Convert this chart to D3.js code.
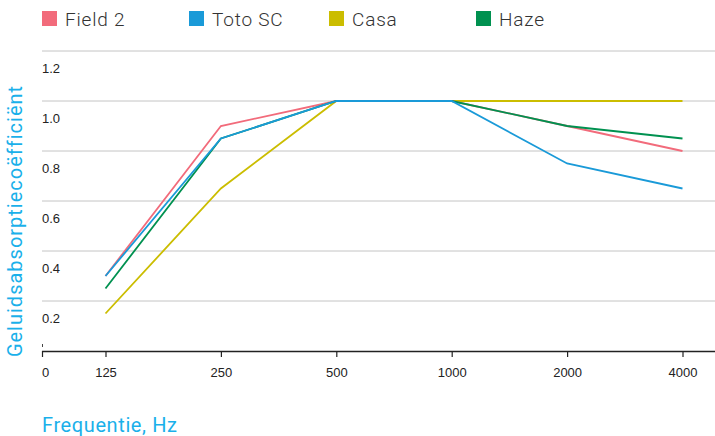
<!DOCTYPE html>
<html><head><meta charset="utf-8">
<script src="https://cdn.jsdelivr.net/npm/d3@7"></script>
<style>
body{margin:0;background:#fff;}
svg{display:block;font-family:"Liberation Sans",Arial,sans-serif;}
</style></head><body>
<svg id="c" width="715" height="436"></svg>
<script>
const categories = ["125","250","500","1000","2000","4000"];
const seriesNames = ["Field 2","Toto SC","Casa","Haze"];
const field2 = [0.30,0.90,1.0,1.0,0.90,0.80];
const totoSC = [0.30,0.85,1.0,1.0,0.75,0.65];
const casa   = [0.15,0.65,1.0,1.0,1.0,1.0];
const haze   = [0.25,0.85,1.0,1.0,0.90,0.85];
const yTicks = [0.2,0.4,0.6,0.8,1.0,1.2];
const colors = ["#f26b7b","#1a9ad8","#cbbd00","#009150"];
const xTitle = "Frequentie, Hz";
const yTitle = "Geluidsabsorptiecoëfficiënt";

const series = [field2,totoSC,casa,haze];
const svg = d3.select("#c");
const x = d3.scalePoint().domain(categories).range([105.5,682.5]);
const y = d3.scaleLinear().domain([0,1.2]).range([351,51]);

// gridlines
svg.append("g").selectAll("line").data(yTicks).join("line")
  .attr("x1",42).attr("x2",715).attr("y1",d=>y(d)).attr("y2",d=>y(d))
  .attr("stroke","#c4c4c4").attr("stroke-width",1);
// y labels (below gridlines)
svg.append("g").selectAll("text").data(yTicks).join("text")
  .attr("x",42).attr("y",d=>y(d)+22).attr("font-size",13).attr("fill","#222")
  .text(d=>d3.format(".1f")(d));
svg.append("line").attr("x1",42.5).attr("x2",42.5).attr("y1",344).attr("y2",347).attr("stroke","#444");

// x axis
const xa = svg.append("g").attr("transform","translate(0,351)")
  .call(d3.axisBottom(x).tickSize(6).tickPadding(11));
xa.select(".domain").remove();
xa.selectAll(".tick line").attr("stroke","#222").attr("stroke-width",1.2);
xa.selectAll(".tick text").attr("font-size",13).attr("fill","#222").attr("font-family","Liberation Sans, Arial, sans-serif");
svg.append("line").attr("x1",42).attr("x2",715).attr("y1",351.5).attr("y2",351.5).attr("stroke","#222").attr("stroke-width",1.6);
svg.append("line").attr("x1",42.5).attr("x2",42.5).attr("y1",351).attr("y2",357).attr("stroke","#222").attr("stroke-width",1.2);
svg.append("text").attr("x",42).attr("y",351+6+11).attr("dy","0.71em").attr("font-size",13).attr("fill","#222").text("0");

// lines
const line = d3.line().x((d,i)=>x(categories[i])).y(d=>y(d));
[2,0,3,1].forEach(k=>{
  svg.append("path").datum(series[k]).attr("d",line).attr("fill","none")
    .attr("stroke",colors[k]).attr("stroke-width",1.8);
});

// legend
const legX = [42,189,329,476];
const lg = svg.append("g").selectAll("g").data(seriesNames).join("g")
  .attr("transform",(d,i)=>`translate(${legX[i]},11)`);
lg.append("rect").attr("width",15).attr("height",15).attr("fill",(d,i)=>colors[i]);
lg.append("text").attr("x",23).attr("y",14.5).attr("font-size",19).attr("fill","#333")
  .attr("font-family","Roboto, Arial, sans-serif").attr("font-weight",300).attr("letter-spacing",0.8).text(d=>d);

// titles
svg.append("text").attr("x",42).attr("y",432).attr("font-size",20).attr("fill","#1ab0ea")
  .attr("font-family","Roboto, Arial, sans-serif").attr("letter-spacing",0.6).text(xTitle);
svg.append("text").attr("transform","translate(22,221) rotate(-90)").attr("text-anchor","middle")
  .attr("font-size",20).attr("fill","#1ab0ea").attr("font-family","Roboto, Arial, sans-serif")
  .attr("letter-spacing",1.0).text(yTitle);
</script></body></html>
